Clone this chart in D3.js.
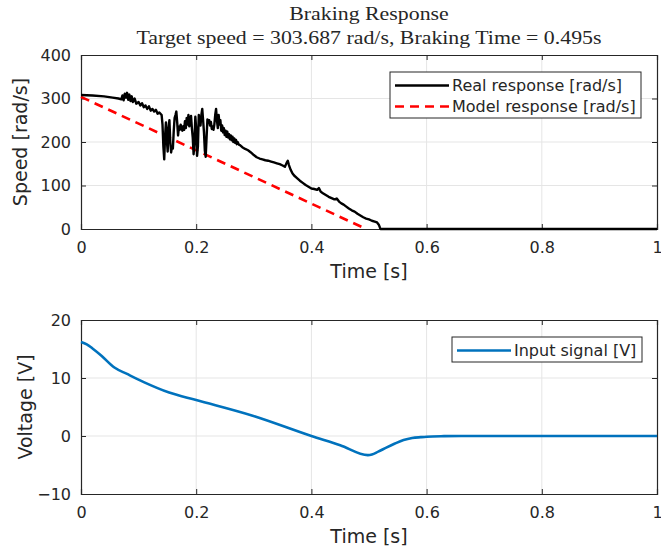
<!DOCTYPE html>
<html>
<head>
<meta charset="utf-8">
<script src="https://cdn.jsdelivr.net/npm/d3@7"></script>
<style>
  body { margin: 0; background: #fff; }
  text { fill: #262626; }
</style>
</head>
<body>
<svg id="chart" width="661" height="554"></svg>
<script>
// time axis ticks, shared by both panels
const timeTicks = [0, 0.2, 0.4, 0.6, 0.8, 1]
const speedTicks = [0, 100, 200, 300, 400]
const voltTicks = [-10, 0, 10, 20]

const realT = [0, 0.02, 0.04, 0.055, 0.065, 0.07, 0.072, 0.074, 0.076, 0.078, 0.08, 0.082, 0.084, 0.086, 0.088, 0.09,
    0.093, 0.096, 0.1, 0.103, 0.106, 0.109, 0.112, 0.115, 0.118, 0.121, 0.124, 0.127, 0.13, 0.133, 0.136,
    0.14, 0.1415, 0.143, 0.1445, 0.146, 0.1475, 0.149, 0.1505, 0.152, 0.1535, 0.155, 0.1565, 0.158, 0.1595,
    0.161, 0.1625, 0.164, 0.1655, 0.167, 0.1685, 0.17, 0.1715, 0.173, 0.1745, 0.176, 0.1775, 0.179, 0.1805,
    0.182, 0.1835, 0.185, 0.1865, 0.188, 0.1895, 0.191, 0.1925, 0.194, 0.1955, 0.197, 0.1985, 0.2, 0.2015,
    0.203, 0.2045, 0.206, 0.2075, 0.209, 0.2105, 0.212, 0.2135, 0.215, 0.2165, 0.218, 0.2195, 0.221, 0.2225,
    0.224, 0.2255, 0.227, 0.2285, 0.23, 0.2315, 0.233, 0.2345, 0.236, 0.2375, 0.239, 0.2405, 0.242, 0.2435,
    0.245, 0.2465, 0.248, 0.2495, 0.251, 0.2525, 0.254, 0.2555, 0.257, 0.2585, 0.26, 0.2615, 0.263, 0.2645,
    0.266, 0.2675, 0.269, 0.2705, 0.272, 0.274, 0.276, 0.28, 0.285, 0.29, 0.295, 0.3, 0.305, 0.31, 0.315,
    0.32, 0.325, 0.33, 0.335, 0.34, 0.345, 0.35, 0.354, 0.357, 0.359, 0.361, 0.364, 0.367, 0.37, 0.375,
    0.38, 0.385, 0.39, 0.395, 0.4, 0.405, 0.41, 0.413, 0.416, 0.42, 0.425, 0.43, 0.435, 0.44, 0.444,
    0.448, 0.452, 0.456, 0.46, 0.465, 0.47, 0.475, 0.48, 0.485, 0.49, 0.495, 0.5, 0.505, 0.51, 0.514,
    0.517, 0.519, 0.52, 1.0]
const realV = [308, 307, 305, 302, 300, 298, 307, 296, 311, 302, 313, 297, 309, 294, 305, 292,
    300, 288, 292, 284, 289, 280, 284, 276, 282, 272, 276, 270, 274, 265, 268,
    262, 240, 190, 160, 215, 245, 205, 178, 232, 250, 200, 176, 190, 185,
    225, 255, 262, 270, 245, 215, 235, 228, 240, 232, 226, 236, 228, 248,
    232, 255, 240, 262, 236, 250, 260, 232, 210, 172, 200, 258, 230, 168,
    190, 262, 248, 238, 262, 276, 250, 222, 180, 166, 210, 252, 244, 250,
    238, 246, 230, 236, 228, 240, 262, 276, 250, 232, 262, 240, 250, 226,
    238, 222, 232, 216, 226, 212, 224, 210, 218, 206, 215, 204, 212, 200,
    208, 198, 205, 195, 200, 194, 193, 188, 184, 181, 176, 170, 165, 162, 160,
    158, 157, 155, 153, 151, 149, 146, 143, 152, 157, 147, 136, 128, 123, 117,
    111, 106, 101, 97, 93, 92, 90, 94, 86, 82, 78, 74, 71, 68, 70,
    63, 59, 56, 52, 47, 43, 40, 35, 31, 27, 24, 22, 19, 17, 15,
    10, 3, 0, 0]

// model response: linear braking from target speed to zero
const modelT = [0, 0.495]
const modelV = [303.687, 0]

// input voltage
const inputT = [0, 0.01, 0.02, 0.036, 0.058, 0.08, 0.109, 0.153, 0.2, 0.298, 0.4, 0.45, 0.498, 0.505,
    0.516, 0.53, 0.545, 0.56, 0.575, 0.59, 0.6, 0.63, 0.66, 1.0]
const inputV = [16.2, 15.8, 15.1, 13.8, 11.8, 10.7, 9.3, 7.5, 6.2, 3.5, 0, -1.6, -3.3, -3.2,
    -2.7, -2.0, -1.3, -0.7, -0.35, -0.2, -0.12, -0.03, 0, 0]

const svg = d3.select('#chart')
const left = 81, right = 657
const axisColor = '#262626', gridColor = '#e5e5e5'
const sans = '"DejaVu Sans", sans-serif'

const x = d3.scaleLinear().domain([0, 1]).range([left, right])

function drawPanel(top, bottom, yDomain, yTicks, yLabel, labelX) {
    const y = d3.scaleLinear().domain(yDomain).range([bottom, top])
    const g = svg.append('g')
    // grid
    g.selectAll('.gx').data(timeTicks.slice(1, -1)).enter().append('line')
        .attr('x1', d => x(d)).attr('x2', d => x(d))
        .attr('y1', top).attr('y2', bottom)
        .attr('stroke', gridColor).attr('stroke-width', 1)
    g.selectAll('.gy').data(yTicks.slice(1, -1)).enter().append('line')
        .attr('x1', left).attr('x2', right)
        .attr('y1', d => y(d)).attr('y2', d => y(d))
        .attr('stroke', gridColor).attr('stroke-width', 1)
    // axes with inward ticks, mirrored on top/right
    const ax = d3.axisBottom(x).tickValues(timeTicks).tickSize(-5).tickPadding(13)
        .tickFormat(d => d3.format('~g')(d))
    const ay = d3.axisLeft(y).tickValues(yTicks).tickSize(-5).tickPadding(10)
    const gx = g.append('g').attr('transform', `translate(0,${bottom})`).call(ax)
    const gy = g.append('g').attr('transform', `translate(${left},0)`).call(ay)
    const gx2 = g.append('g').attr('transform', `translate(0,${top})`)
        .call(d3.axisTop(x).tickValues(timeTicks).tickSize(-5).tickFormat(''))
    const gy2 = g.append('g').attr('transform', `translate(${right},0)`)
        .call(d3.axisRight(y).tickValues(yTicks).tickSize(-5).tickFormat(''))
    ;[gx, gy, gx2, gy2].forEach(a => {
        a.select('.domain').attr('stroke', axisColor).attr('stroke-width', 1.2)
        a.selectAll('.tick line').attr('stroke', axisColor)
        a.selectAll('.tick text').attr('font-size', 16).attr('fill', axisColor)
            .attr('font-family', sans)
    })
    g.append('text').attr('x', (left + right) / 2).attr('y', bottom + 49)
        .attr('text-anchor', 'middle').style('font-family', sans).attr('font-size', 19).text('Time [s]')
    g.append('text').attr('transform', `translate(${labelX},${(top + bottom) / 2}) rotate(-90)`)
        .attr('text-anchor', 'middle').style('font-family', sans).attr('font-size', 19).text(yLabel)
    return y
}

function legend(x0, y0, w, rows) {
    const h = rows.length * 21 + 4
    svg.append('rect').attr('x', x0).attr('y', y0).attr('width', w).attr('height', h)
        .attr('fill', '#fff').attr('stroke', axisColor).attr('stroke-width', 1)
    rows.forEach((r, i) => {
        const cy = y0 + 13.5 + i * 21
        svg.append('line').attr('x1', x0 + 5).attr('x2', x0 + 59).attr('y1', cy).attr('y2', cy)
            .attr('stroke', r.color).attr('stroke-width', r.width)
            .attr('stroke-dasharray', r.dash || null)
        svg.append('text').attr('x', x0 + 62).attr('y', cy + 5.5)
            .style('font-family', sans).attr('font-size', 16).text(r.label)
    })
}

// ---- top panel ----
const y1 = drawPanel(55, 229, [0, 400], speedTicks, 'Speed [rad/s]', 27)
const line1 = d3.line().x(d => x(d[0])).y(d => y1(d[1]))
svg.append('path').datum(d3.zip(modelT, modelV))
    .attr('d', line1).attr('fill', 'none').attr('stroke', '#ff0000')
    .attr('stroke-width', 2.6).attr('stroke-dasharray', '9,6')
svg.append('path').datum(d3.zip(realT, realV))
    .attr('d', line1).attr('fill', 'none').attr('stroke', '#000')
    .attr('stroke-width', 2.4).attr('stroke-linejoin', 'round')
legend(390, 72, 251, [
    {label: 'Real response [rad/s]', color: '#000', width: 2.4},
    {label: 'Model response [rad/s]', color: '#ff0000', width: 2.6, dash: '9,6'}
])

// ---- bottom panel ----
const y2 = drawPanel(320, 494, [-10, 20], voltTicks, 'Voltage [V]', 32)
const line2 = d3.line().x(d => x(d[0])).y(d => y2(d[1])).curve(d3.curveMonotoneX)
svg.append('path').datum(d3.zip(inputT, inputV))
    .attr('d', line2).attr('fill', 'none').attr('stroke', '#0072BD')
    .attr('stroke-width', 2.6)
legend(452, 337, 190, [
    {label: 'Input signal [V]', color: '#0072BD', width: 2.6}
])

// ---- title (serif, like the LaTeX interpreter) ----
const cx = (left + right) / 2
;[['Braking Response', 20], ['Target speed = 303.687 rad/s, Braking Time = 0.495s', 44]].forEach(([t, ty]) => {
    svg.append('text').attr('transform', `translate(${cx},${ty}) scale(1.15,1)`)
        .attr('text-anchor', 'middle').style('font-family', '"Liberation Serif", serif')
        .attr('font-size', 19).text(t)
})
</script>
</body>
</html>
